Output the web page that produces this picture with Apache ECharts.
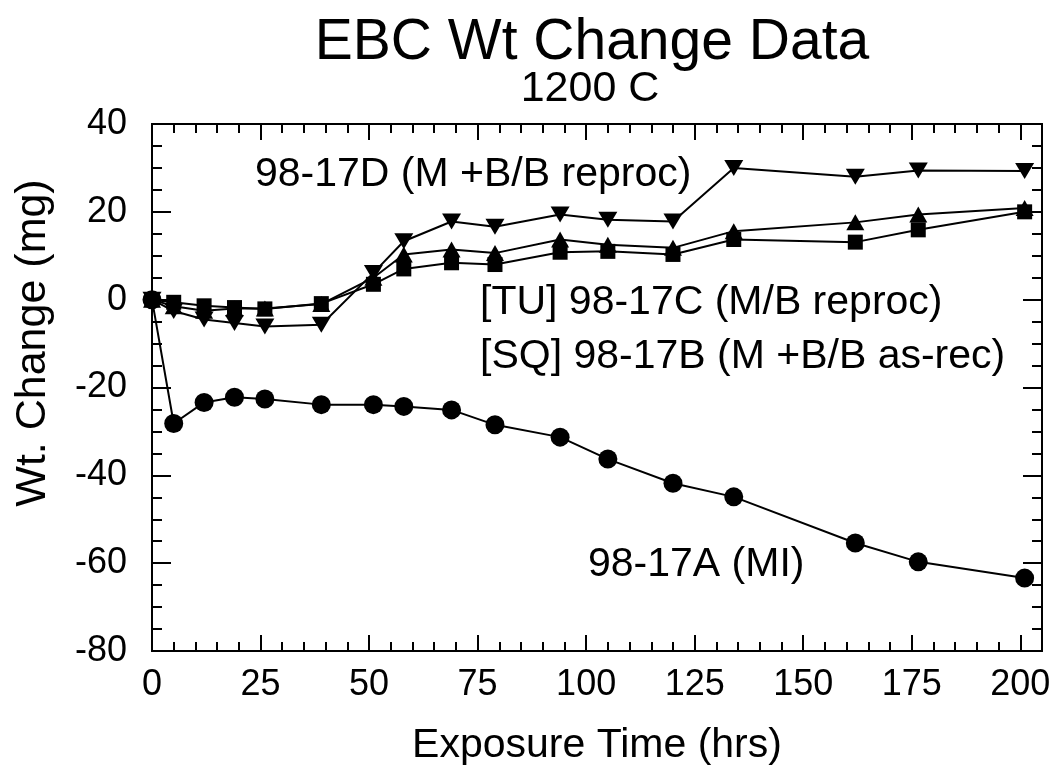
<!DOCTYPE html>
<html>
<head>
<meta charset="utf-8">
<script src="https://cdn.jsdelivr.net/npm/echarts@6/dist/echarts.min.js"></script>
<style>html,body{margin:0;padding:0;background:#fff;}#c{width:1063px;height:780px;}</style>
</head>
<body>
<div id="c"></div>
<script>
var times = [0, 5, 12, 19, 26, 39, 51, 58, 69, 79, 94, 105, 120, 134, 162, 176.5, 201];
var s17A = [0, -28.2, -23.4, -22.2, -22.6, -23.9, -23.9, -24.3, -25.1, -28.5, -31.3, -36.3, -41.8, -44.9, -55.4, -59.7, -63.4];
var s17B = [0, -0.6, -1.4, -1.8, -2.1, -0.9, 3.5, 7.0, 8.4, 8.0, 10.8, 11.0, 10.3, 13.7, 13.1, 15.9, 20.0];
var s17C = [0, -1.5, -2.5, -2.0, -2.0, -1.0, 5.0, 10.3, 11.4, 10.6, 13.7, 12.5, 11.8, 15.6, 17.6, 19.4, 20.9];
var s17D = [0, -2.6, -4.5, -5.3, -6.1, -5.7, 6.1, 13.3, 17.8, 16.6, 19.4, 18.2, 17.8, 30.0, 28.0, 29.4, 29.3];
var xTickLabels = ['0', '25', '50', '75', '100', '125', '150', '175', '200'];
var yTickLabels = ['-80', '-60', '-40', '-20', '0', '20', '40'];

var FONT = '"Liberation Sans", Arial, Helvetica, sans-serif';
function pairs(vals) { return times.map(function (t, i) { return [t, vals[i]]; }); }

var chart = echarts.init(document.getElementById('c'), null, { renderer: 'canvas' });

function xAx(pos, interval, len, labels) {
  return {
    type: 'value', position: pos, min: 0, max: 205, interval: interval,
    axisLine: { show: true, onZero: false, lineStyle: { color: '#000', width: 2 } },
    axisTick: { show: true, inside: true, length: len, lineStyle: { color: '#000', width: 2 } },
    axisLabel: labels ? {
      show: true, color: '#000', fontFamily: FONT, fontSize: 36, margin: 16,
      showMaxLabel: false,
      formatter: function (v) { var s = String(v); return xTickLabels.indexOf(s) >= 0 ? s : ''; }
    } : { show: false },
    splitLine: { show: false },
    name: labels && pos === 'bottom' ? 'Exposure Time (hrs)' : '',
    nameLocation: 'middle', nameGap: 74,
    nameTextStyle: { color: '#000', fontFamily: FONT, fontSize: 41 }
  };
}
function yAx(pos, labels) {
  return {
    type: 'value', position: pos, min: -80, max: 40, interval: 20,
    axisLine: { show: true, onZero: false, lineStyle: { color: '#000', width: 2 } },
    axisTick: { show: true, inside: true, length: 19, lineStyle: { color: '#000', width: 2 } },
    minorTick: { show: true, splitNumber: 4, length: 10, lineStyle: { color: '#000', width: 2 } },
    axisLabel: labels ? {
      show: true, color: '#000', fontFamily: FONT, fontSize: 36, margin: 25,
      formatter: function (v) { var s = String(v); return yTickLabels.indexOf(s) >= 0 ? s : ''; }
    } : { show: false },
    splitLine: { show: false }
  };
}

var lineCommon = { type: 'line', xAxisIndex: 0, yAxisIndex: 0, lineStyle: { color: '#000', width: 2 }, itemStyle: { color: '#000' }, symbolKeepAspect: true, z: 3 };

var option = {
  backgroundColor: '#fff',
  animation: false,
  grid: { left: 152, right: 21, top: 124, bottom: 129, containLabel: false },
  xAxis: [xAx('bottom', 25, 16, true), xAx('bottom', 5, 9, false), xAx('top', 25, 16, false), xAx('top', 5, 9, false)],
  yAxis: [yAx('left', true), yAx('right', false)],
  graphic: [
    { type: 'text', x: 592, y: 43, style: { text: 'EBC Wt Change Data', font: '57px ' + FONT, fill: '#000', textAlign: 'center', textVerticalAlign: 'middle' } },
    { type: 'text', x: 590, y: 89, style: { text: '1200 C', font: '43px ' + FONT, fill: '#000', textAlign: 'center', textVerticalAlign: 'middle' } },
    { type: 'text', x: 33, y: 343, rotation: Math.PI / 2, style: { text: 'Wt. Change (mg)', font: '43px ' + FONT, fill: '#000', textAlign: 'center', textVerticalAlign: 'middle' } },
    { type: 'text', x: 255, y: 175, style: { text: '98-17D (M +B/B reproc)', font: '41px ' + FONT, fill: '#000', textVerticalAlign: 'middle' } },
    { type: 'text', x: 480, y: 303, style: { text: '[TU] 98-17C (M/B reproc)', font: '41px ' + FONT, fill: '#000', textVerticalAlign: 'middle' } },
    { type: 'text', x: 480, y: 357, style: { text: '[SQ] 98-17B (M +B/B as-rec)', font: '41px ' + FONT, fill: '#000', textVerticalAlign: 'middle' } },
    { type: 'text', x: 588, y: 565, style: { text: '98-17A (MI)', font: '41px ' + FONT, fill: '#000', textVerticalAlign: 'middle' } }
  ],
  series: [
    Object.assign({}, lineCommon, { name: '98-17A (MI)', data: pairs(s17A), symbol: 'circle', symbolSize: 19 }),
    Object.assign({}, lineCommon, { name: '98-17B', data: pairs(s17B), symbol: 'rect', symbolSize: 15 }),
    Object.assign({}, lineCommon, { name: '98-17C', data: pairs(s17C), symbol: 'triangle', symbolSize: [18, 16] }),
    Object.assign({}, lineCommon, { name: '98-17D', data: pairs(s17D), symbol: 'triangle', symbolRotate: 180, symbolSize: [19, 16] })
  ]
};
chart.setOption(option);
</script>
</body>
</html>
